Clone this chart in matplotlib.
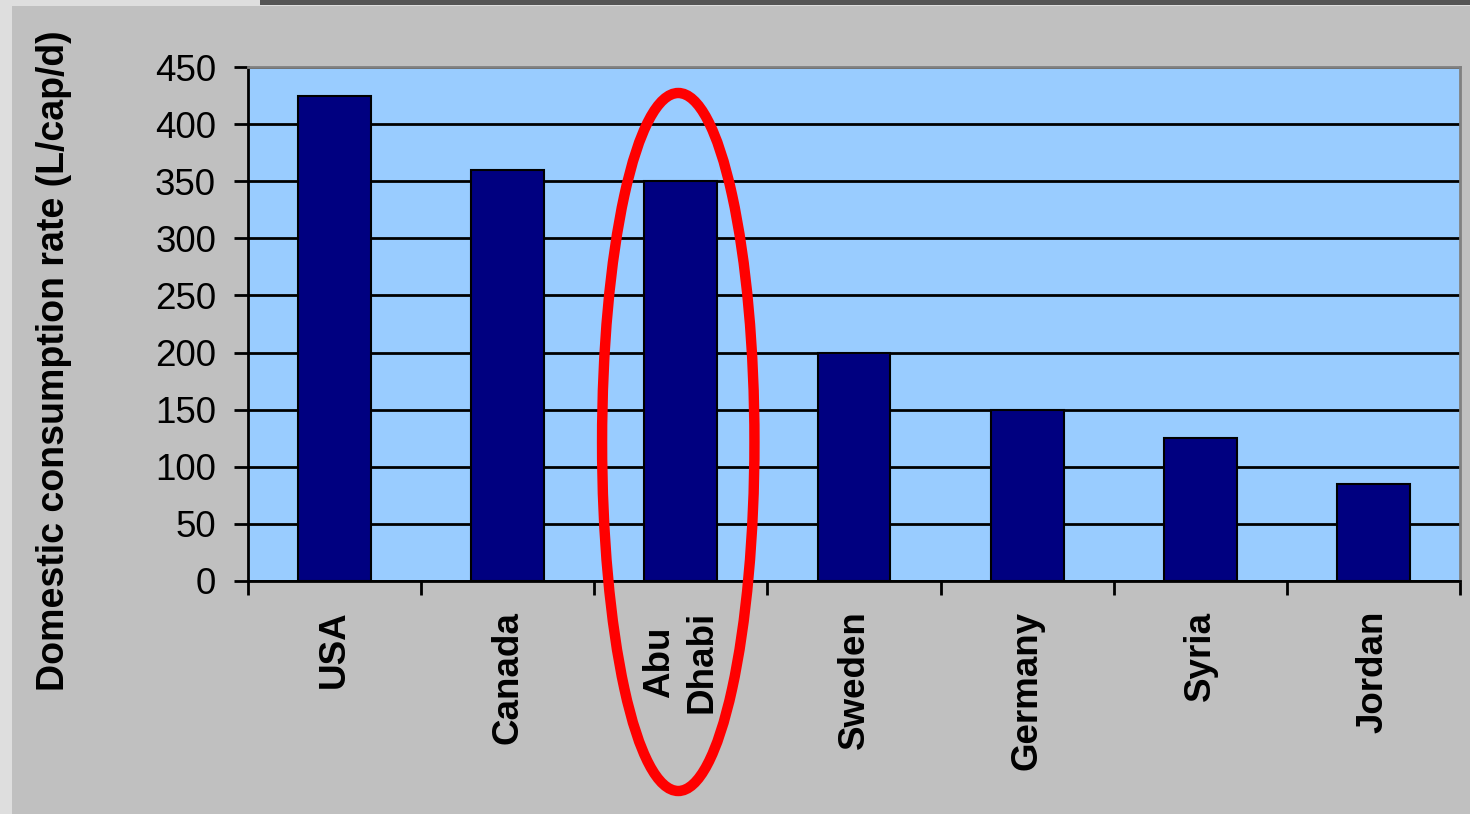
import matplotlib.pyplot as plt
from matplotlib.patches import Ellipse, Rectangle
from matplotlib.transforms import blended_transform_factory

plt.rcParams['font.family'] = ['Liberation Sans', 'DejaVu Sans']

countries = ['USA', 'Canada', 'Abu\nDhabi', 'Sweden', 'Germany', 'Syria', 'Jordan']
consumption = [425, 360, 350, 200, 150, 125, 85]
yticks = [0, 50, 100, 150, 200, 250, 300, 350, 400, 450]

fig = plt.figure(figsize=(14.7, 8.14), dpi=100, facecolor='#c0c0c0')

# window-like frame around the chart
fig.patches.append(Rectangle((0, 0), 12 / 1470, 1, transform=fig.transFigure,
                             facecolor='#dedede', edgecolor='none', zorder=0))
fig.patches.append(Rectangle((0, 1 - 6 / 814), 1, 6 / 814, transform=fig.transFigure,
                             facecolor='#dedede', edgecolor='none', zorder=0))
fig.patches.append(Rectangle((260 / 1470, 1 - 5 / 814), 1, 5 / 814, transform=fig.transFigure,
                             facecolor='#555555', edgecolor='none', zorder=1))

ax = fig.add_axes([248 / 1470, 1 - 581 / 814, 1212 / 1470, 514 / 814])
ax.set_facecolor('#99ccff')

x = list(range(len(countries)))
ax.bar(x, consumption, width=0.42, color='#000080', edgecolor='black', linewidth=1.5, zorder=3)

ax.set_xlim(-0.5, len(countries) - 0.5)
ax.set_ylim(0, 450)
ax.set_yticks(yticks)
ax.set_yticklabels([str(v) for v in yticks], fontsize=26.5)
ax.yaxis.grid(True, color='black', linewidth=2)
ax.set_axisbelow(True)

# category ticks sit on the boundaries between bars
ax.set_xticks([i - 0.5 for i in range(len(countries) + 1)])
ax.set_xticklabels([])
ax.tick_params(axis='x', direction='out', length=10, width=2, color='black')
ax.tick_params(axis='y', direction='out', length=10, width=2, color='black', pad=13)

for i, name in enumerate(countries):
    ax.text(i, -26, name, rotation=90, ha='center', va='top', multialignment='center',
            fontsize=26.5, fontweight='bold', linespacing=1.3)

for side in ['left', 'bottom']:
    ax.spines[side].set_color('black')
    ax.spines[side].set_linewidth(2)
for side in ['top', 'right']:
    ax.spines[side].set_color('#808080')
    ax.spines[side].set_linewidth(2)

fig.text(54 / 1470, 1 - 361 / 814, 'Domestic consumption rate (L/cap/d)', rotation=90,
         ha='center', va='center', fontsize=27, fontweight='bold')

# highlight around Abu Dhabi
trans = blended_transform_factory(ax.transData, fig.transFigure)
ring = Ellipse((1.985, 1 - 442 / 814), 0.88, 698 / 814, transform=trans, fill=False,
               edgecolor='#ff0000', linewidth=7.5, clip_on=False, zorder=10)
fig.patches.append(ring)

fig.savefig('out.png', dpi=100, facecolor=fig.get_facecolor())
